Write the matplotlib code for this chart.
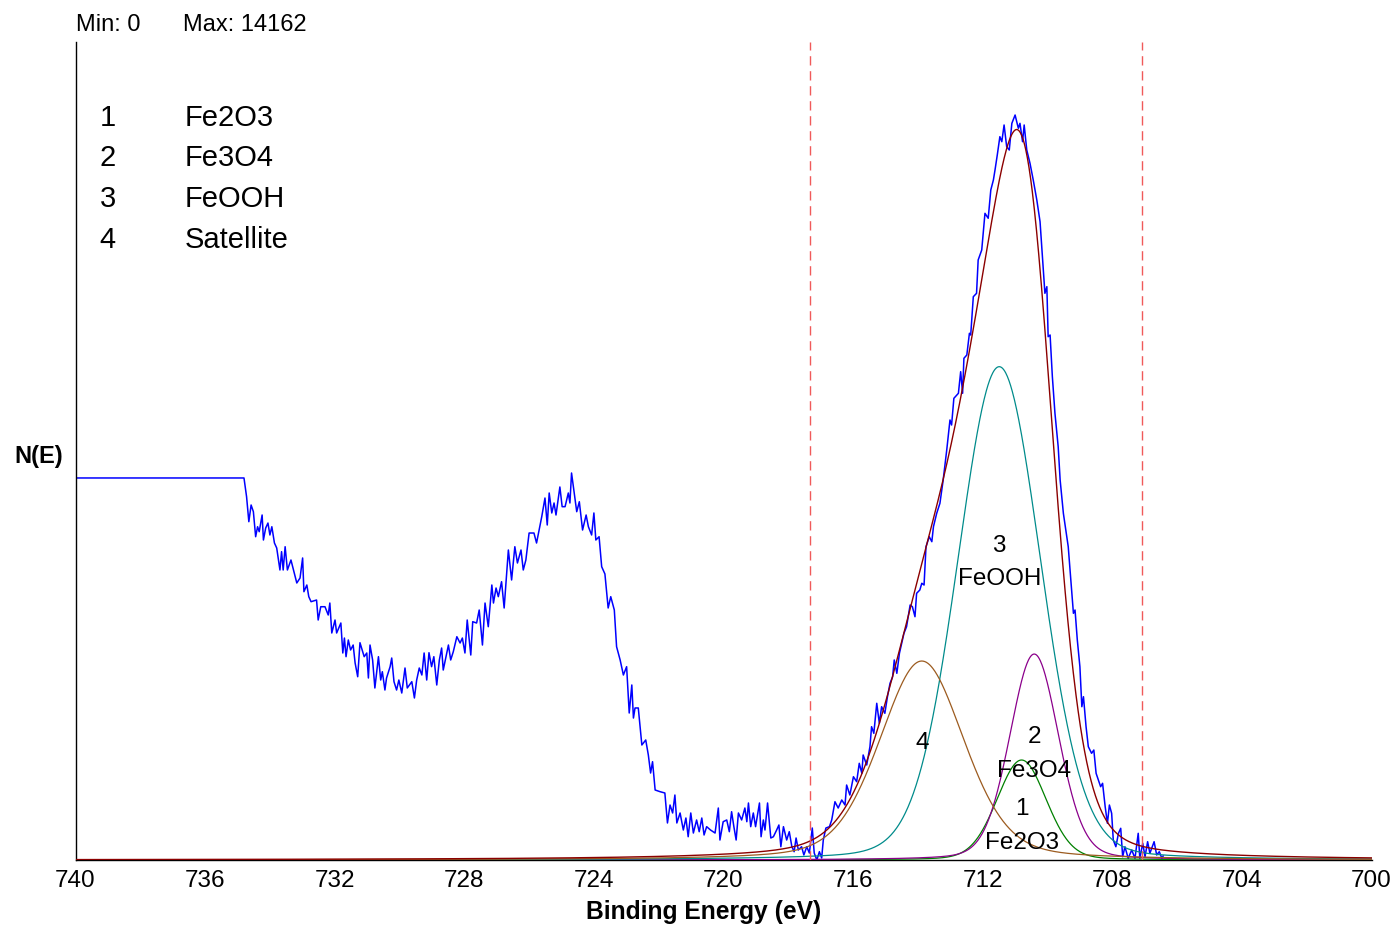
import numpy as np
import matplotlib
matplotlib.use("Agg")
import matplotlib.pyplot as plt

plt.rcParams["font.family"] = ["Liberation Sans", "DejaVu Sans"]

# raw Fe 2p3/2 spectrum: binding energy (eV) and counts
energy = [
    740.00, 734.80, 734.72, 734.65, 734.58, 734.51, 734.44, 734.38, 734.33, 734.24,
    734.20, 734.13, 734.06, 734.00, 733.94, 733.86, 733.79, 733.69, 733.64, 733.59,
    733.53, 733.46, 733.35, 733.17, 733.07, 732.99, 732.95, 732.86, 732.80, 732.73,
    732.56, 732.51, 732.43, 732.30, 732.20, 732.15, 732.09, 731.99, 731.94, 731.81,
    731.75, 731.70, 731.65, 731.58, 731.51, 731.43, 731.37, 731.29, 731.22, 731.09,
    731.01, 730.96, 730.91, 730.83, 730.76, 730.65, 730.58, 730.53, 730.45, 730.40,
    730.29, 730.24, 730.17, 730.09, 730.02, 729.93, 729.83, 729.76, 729.62, 729.54,
    729.47, 729.39, 729.31, 729.24, 729.16, 729.09, 729.01, 728.94, 728.85, 728.77,
    728.70, 728.65, 728.49, 728.42, 728.34, 728.23, 728.13, 728.06, 727.98, 727.91,
    727.80, 727.74, 727.62, 727.54, 727.44, 727.36, 727.26, 727.15, 727.10, 727.02,
    726.95, 726.85, 726.77, 726.64, 726.54, 726.44, 726.36, 726.25, 726.18, 726.10,
    726.00, 725.85, 725.77, 725.61, 725.51, 725.44, 725.38, 725.30, 725.23, 725.17,
    725.05, 724.98, 724.89, 724.79, 724.74, 724.69, 724.60, 724.53, 724.45, 724.35,
    724.24, 724.17, 724.07, 724.00, 723.94, 723.84, 723.76, 723.66, 723.56, 723.48,
    723.37, 723.30, 723.19, 723.09, 722.99, 722.91, 722.83, 722.78, 722.73, 722.63,
    722.52, 722.40, 722.32, 722.25, 722.19, 722.11, 721.96, 721.81, 721.73, 721.65,
    721.57, 721.50, 721.44, 721.34, 721.24, 721.16, 721.09, 721.01, 720.93, 720.83,
    720.75, 720.67, 720.60, 720.52, 720.40, 720.26, 720.16, 720.11, 720.01, 719.90,
    719.82, 719.75, 719.68, 719.61, 719.54, 719.44, 719.34, 719.28, 719.23, 719.16,
    719.08, 719.01, 718.89, 718.84, 718.77, 718.72, 718.64, 718.54, 718.46, 718.36,
    718.29, 718.23, 718.15, 718.05, 717.97, 717.89, 717.82, 717.76, 717.69, 717.59,
    717.52, 717.43, 717.35, 717.26, 717.20, 717.12, 717.04, 716.97, 716.92, 716.84,
    716.73, 716.66, 716.56, 716.46, 716.35, 716.25, 716.20, 716.10, 715.99, 715.89,
    715.81, 715.73, 715.69, 715.58, 715.48, 715.43, 715.36, 715.27, 715.19, 715.12,
    715.02, 714.94, 714.86, 714.78, 714.73, 714.65, 714.57, 714.50, 714.43, 714.35,
    714.24, 714.17, 714.09, 714.04, 713.94, 713.88, 713.81, 713.75, 713.65, 713.57,
    713.52, 713.42, 713.32, 713.22, 713.11, 713.01, 712.96, 712.89, 712.75, 712.68,
    712.62, 712.58, 712.49, 712.41, 712.37, 712.29, 712.19, 712.14, 712.03, 711.93,
    711.83, 711.75, 711.67, 711.62, 711.55, 711.47, 711.41, 711.34, 711.26, 711.18,
    711.10, 711.00, 710.90, 710.85, 710.77, 710.72, 710.64, 710.54, 710.44, 710.33,
    710.23, 710.15, 710.08, 710.02, 709.98, 709.92, 709.85, 709.77, 709.67, 709.61,
    709.51, 709.36, 709.28, 709.20, 709.15, 709.08, 709.00, 708.94, 708.89, 708.81,
    708.74, 708.64, 708.57, 708.50, 708.43, 708.36, 708.30, 708.22, 708.15, 708.09,
    708.02, 707.97, 707.89, 707.81, 707.74, 707.68, 707.61, 707.51, 707.40, 707.30,
    707.20, 707.15, 707.06, 706.99, 706.91, 706.84, 706.71, 706.63, 706.55, 706.47,
    706.43,
]
counts = [
    6614, 6614, 6290, 5857, 6146, 6030, 5597, 5770, 5684, 5973,
    5540, 5748, 5834, 5627, 5770, 5488, 5402, 5021, 5338, 5021,
    5424, 5021, 5194, 4796, 4882, 5229, 4645, 4761, 4559, 4472,
    4501, 4155, 4385, 4385, 4242, 4449, 3930, 4155, 3930, 4103,
    3584, 3843, 3520, 3809, 3636, 3722, 3411, 3173, 3762, 3520,
    3584, 3151, 3722, 3463, 2978, 3520, 3116, 3260, 2943, 3151,
    3347, 3497, 3087, 2943, 3116, 2891, 3324, 2978, 3087, 2805,
    3116, 3324, 3203, 3584, 3116, 3589, 3347, 3520, 3030, 3463,
    3670, 3289, 3722, 3463, 3606, 3866, 3757, 3843, 3584, 4155,
    3549, 4126, 4103, 4328, 3722, 4449, 4039, 4761, 4449, 4709,
    4559, 4818, 4363, 5367, 4848, 5424, 5142, 5367, 5021, 5194,
    5661, 5661, 5488, 5943, 6267, 5800, 6354, 6008, 6181, 5973,
    6458, 6117, 6117, 6354, 6181, 6700, 6319, 6030, 6203, 5713,
    5973, 5770, 5627, 6008, 5540, 5597, 5078, 4952, 4363, 4559,
    4328, 3693, 3463, 3203, 3347, 2545, 3030, 2458, 2632, 2632,
    1991, 2078, 1818, 1506, 1702, 1212, 1183, 1160, 641, 952,
    814, 1125, 641, 814, 519, 727, 403, 814, 467, 693,
    490, 727, 433, 577, 519, 467, 900, 346, 663, 693,
    490, 836, 577, 346, 814, 693, 900, 663, 987, 577,
    814, 577, 987, 403, 693, 519, 987, 381, 403, 519,
    606, 230, 577, 346, 490, 230, 144, 381, 173, 230,
    87, 230, 121, 554, 121, 0, 144, 35, 346, 554,
    577, 693, 1009, 900, 1039, 952, 1298, 1125, 1442, 1356,
    1674, 1501, 1818, 1645, 1962, 2308, 2193, 2713, 2367, 2654,
    2540, 2827, 3059, 3173, 3463, 3232, 3579, 3752, 3925, 4039,
    4415, 4385, 4212, 4617, 4675, 4791, 4761, 5424, 5597, 5511,
    5770, 6002, 6176, 6579, 7098, 7618, 7531, 7993, 8080, 8454,
    8080, 8686, 8743, 9119, 9089, 9752, 9811, 10388, 10561, 11196,
    11110, 11600, 11773, 11946, 12206, 12523, 12436, 12725, 12349, 12292,
    12754, 12898, 12668, 12754, 12436, 12725, 12292, 12062, 11773, 11427,
    11051, 10388, 9811, 9926, 9060, 9089, 8368, 7734, 7155, 6579,
    6002, 5424, 4848, 4271, 4328, 3809, 3347, 2654, 2827, 2308,
    1962, 1847, 1904, 1501, 1385, 1269, 1328, 923, 635, 952,
    808, 346, 230, 462, 549, 57, 230, 29, 173, 29,
    462, 29, 289, 57, 317, 116, 317, 87, 144, 29,
    69,
]

# fitted components (sum Gaussian-Lorentzian)
peak_ids = ["1", "2", "3", "4"]
peak_names = ["Fe2O3", "Fe3O4", "FeOOH", "Satellite"]
peak_centre = [710.80, 710.41, 711.49, 713.88]
peak_fwhm = [1.80, 1.78, 3.03, 3.09]
peak_height = [1731, 3566, 8541, 3445]
peak_lorentz = [0.15, 0.18, 0.12, 0.30]

fit_region = [717.33, 707.09]
count_min, count_max = 0, 14162

colors = ["#008000", "#8B008B", "#008B8B", "#9C5B1F"]
env_color = "#8B0000"

W, H = 1395, 932


def fx(x):
    return x / W


def fy(y):
    return 1 - y / H


fig = plt.figure(figsize=(W / 100, H / 100), dpi=100)
ax = fig.add_axes([fx(75.5), fy(860), fx(1371.5) - fx(75.5), fy(42) - fy(860)])

grid = np.linspace(740, 700, 2400)
envelope = np.zeros_like(grid)
comps = []
for c, f, h, m in zip(peak_centre, peak_fwhm, peak_height, peak_lorentz):
    u = (grid - c) / f
    y = h * ((1 - m) * np.exp(-4 * np.log(2) * u ** 2) + m / (1 + 4 * u ** 2))
    comps.append(y)
    envelope += y

ax.plot(energy, counts, color="#0000FF", lw=1.1, zorder=2)
for y, col in zip(comps, colors):
    ax.plot(grid, y, color=col, lw=0.9, zorder=3)
ax.plot(grid, envelope, color=env_color, lw=1.0, zorder=4)

for e in fit_region:
    ax.axvline(e, ymin=0, ymax=1, color="#F05A5A", lw=1.0,
               linestyle=(0, (6.7, 4.1)), zorder=5)

ax.set_xlim(740, 700)
ax.set_ylim(count_min, count_max)
ax.set_xticks(np.arange(740, 699, -4))
ax.set_yticks([])
ax.tick_params(axis="x", length=0, pad=7, labelsize=17.5)
for s in ["top", "right"]:
    ax.spines[s].set_visible(False)
ax.spines["left"].set_linewidth(1.0)
ax.spines["bottom"].set_linewidth(1.0)

# peak labels
label_y = [779, 2020, 5338, 1917]
for i, (c, ly) in enumerate(zip(peak_centre, label_y)):
    ax.text(c, ly, peak_ids[i], ha="center", va="baseline", fontsize=17.5, zorder=6)
    if peak_names[i] != "Satellite":
        ax.annotate(peak_names[i], (c, ly), xytext=(0, -24.2), textcoords="offset points",
                    ha="center", va="baseline", fontsize=17.5, zorder=6)

# header and legend
fig.text(fx(76), fy(31), "Min: %d" % count_min, fontsize=17, va="baseline")
fig.text(fx(183), fy(31), "Max: %d" % count_max, fontsize=17, va="baseline")
fig.text(fx(14), fy(462.7), "N(E)", fontsize=17, fontweight="bold", va="baseline")
for i, base in enumerate([126, 166.5, 207, 247.5]):
    fig.text(fx(107.5), fy(base), peak_ids[i], fontsize=21, ha="center", va="baseline")
    fig.text(fx(185), fy(base), peak_names[i], fontsize=21, va="baseline")

fig.text(fx(704), fy(919.3), "Binding Energy (eV)", fontsize=17.7, fontweight="bold",
         ha="center", va="baseline")

fig.savefig("out.png", dpi=100)
